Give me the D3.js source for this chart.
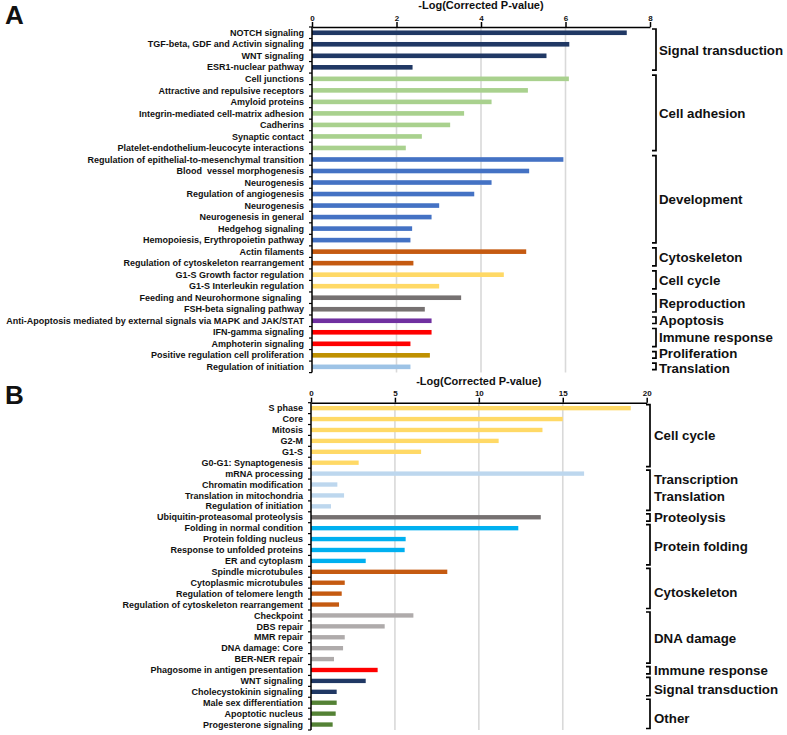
<!DOCTYPE html>
<html><head><meta charset="utf-8">
<script src="https://cdn.jsdelivr.net/npm/d3@7"></script>
<style>body{margin:0;background:#fff}svg{display:block}text{font-family:"Liberation Sans",Arial,sans-serif;font-weight:bold;fill:#111}</style>
</head><body>
<script>
// ---------- Panel A data ----------
const catsA = ["NOTCH signaling","TGF-beta, GDF and Activin signaling","WNT signaling","ESR1-nuclear pathway",
"Cell junctions","Attractive and repulsive receptors","Amyloid proteins","Integrin-mediated cell-matrix adhesion","Cadherins","Synaptic contact","Platelet-endothelium-leucocyte interactions",
"Regulation of epithelial-to-mesenchymal transition","Blood  vessel morphogenesis","Neurogenesis","Regulation of angiogenesis","Neurogenesis","Neurogenesis in general","Hedgehog signaling","Hemopoiesis, Erythropoietin pathway",
"Actin filaments","Regulation of cytoskeleton rearrangement",
"G1-S Growth factor regulation","G1-S Interleukin regulation",
"Feeding and Neurohormone signaling ","FSH-beta signaling pathway",
"Anti-Apoptosis mediated by external signals via MAPK and JAK/STAT",
"IFN-gamma signaling","Amphoterin signaling",
"Positive regulation cell proliferation",
"Regulation of initiation"];
const valsA = [7.45,6.09,5.55,2.38, 6.08,5.11,4.25,3.60,3.27,2.60,2.22, 5.95,5.14,4.25,3.84,3.01,2.83,2.37,2.33, 5.07,2.40, 4.54,3.01, 3.53,2.67, 2.83, 2.83,2.33, 2.79, 2.33];
const groupNamesA = [["Signal transduction"],["Cell adhesion"],["Development"],["Cytoskeleton"],["Cell cycle"],["Reproduction"],["Apoptosis"],["Immune response"],["Proliferation"],["Translation"]];
const groupSizesA = [4,7,8,2,2,2,1,2,1,1];
const groupColorsA = ["#203864","#a9d18e","#4472c4","#c55a11","#ffd966","#767171","#7030a0","#ff0000","#bf9000","#9dc3e6"];
const ticksA = [0,2,4,6,8];

// ---------- Panel B data ----------
const catsB = ["S phase","Core","Mitosis","G2-M","G1-S","G0-G1: Synaptogenesis",
"mRNA processing","Chromatin modification","Translation in mitochondria","Regulation of initiation",
"Ubiquitin-proteasomal proteolysis",
"Folding in normal condition","Protein folding nucleus","Response to unfolded proteins","ER and cytoplasm",
"Spindle microtubules","Cytoplasmic microtubules","Regulation of telomere length","Regulation of cytoskeleton rearrangement",
"Checkpoint","DBS repair","MMR repair","DNA damage: Core","BER-NER repair",
"Phagosome in antigen presentation",
"WNT signaling","Cholecystokinin signaling",
"Male sex differentiation","Apoptotic nucleus","Progesterone signaling"];
const valsB = [19.05,15.0,13.79,11.18,6.56,2.84, 16.27,1.57,1.97,1.19, 13.69, 12.35,5.64,5.58,3.26, 8.12,2.01,1.83,1.67, 6.10,4.39,2.01,1.91,1.37, 3.97, 3.26,1.53, 1.53,1.47,1.29];
const groupNamesB = [["Cell cycle"],["Transcription","Translation"],["Proteolysis"],["Protein folding"],["Cytoskeleton"],["DNA damage"],["Immune response"],["Signal transduction"],["Other"]];
const groupSizesB = [6,4,1,4,4,5,1,2,3];
const groupColorsB = ["#ffd966","#bdd7ee","#767171","#00b0f0","#c55a11","#afabab","#ff0000","#203864","#548235"];
const ticksB = [0,5,10,15,20];

const axisTitle = "-Log(Corrected P-value)";

const svg = d3.select("body").append("svg").attr("width",787).attr("height",735);

function panel(cfg){
  const {cats, vals, groupNames, groupSizes, groupColors, ticks, x0, x1, y0, y1, letter, letterY, bx, tx, insTop, insBot, labelDy} = cfg;
  const g = svg.append("g");
  const x = d3.scaleLinear().domain([0, ticks[ticks.length-1]]).range([x0, x1]);
  const idx = cats.map((d,i)=>i);
  const y = d3.scaleBand().domain(idx).range([y0, y1]).padding(0);
  const step = y.step();
  const rowColor = [];
  groupSizes.forEach((n,gi)=>{ for(let k=0;k<n;k++) rowColor.push(groupColors[gi]); });

  // gridlines
  g.selectAll(".grid").data(ticks.slice(1,-1)).join("line")
    .attr("x1",d=>x(d)).attr("x2",d=>x(d)).attr("y1",y0).attr("y2",y1)
    .attr("stroke","#d9d9d9").attr("stroke-width",1.6);

  // bars
  g.selectAll(".bar").data(vals).join("rect")
    .attr("x",x(0)).attr("y",(d,i)=>y(i)+step*0.3)
    .attr("width",d=>x(d)-x(0)).attr("height",step*0.4)
    .attr("fill",(d,i)=>rowColor[i]);

  // top axis
  const ax = g.append("g").attr("transform",`translate(0,${y0})`)
    .call(d3.axisTop(x).tickValues(ticks).tickSize(5).tickSizeOuter(0).tickFormat(d3.format("d")));
  ax.select(".domain").attr("stroke","#000").attr("stroke-width",1.5);
  ax.selectAll(".tick line").attr("stroke","#000").attr("stroke-width",1.5);
  ax.selectAll(".tick text").attr("font-size",8).attr("font-family","Liberation Sans, Arial").attr("font-weight","bold").attr("fill","#111").attr("dy","0.2em");

  // axis title
  g.append("text").attr("x",(x0+x1)/2).attr("y",y0-18).attr("text-anchor","middle").attr("font-size",11).text(axisTitle);

  // left axis
  g.append("line").attr("x1",x0).attr("x2",x0).attr("y1",y0).attr("y2",y1).attr("stroke","#000").attr("stroke-width",1.5);
  g.selectAll(".ytick").data(d3.range(cats.length+1)).join("line")
    .attr("x1",x0-3).attr("x2",x0).attr("y1",d=>y0+d*step).attr("y2",d=>y0+d*step)
    .attr("stroke","#000").attr("stroke-width",1.2);
  g.selectAll(".ylab").data(cats).join("text")
    .attr("x",x0-8).attr("y",(d,i)=>y(i)+step/2).attr("dy","0.35em")
    .attr("text-anchor","end").attr("font-size",9).style("white-space","pre").text(d=>d);

  // brackets
  let start = 0;
  groupSizes.forEach((n,gi)=>{
    const ya = y(start)+insTop, yb = y(start+n-1)+step-insBot;
    g.append("path").attr("d",`M${bx-4},${ya}H${bx}V${yb}H${bx-4}`)
      .attr("fill","none").attr("stroke","#000").attr("stroke-width",1.7);
    const lines = groupNames[gi];
    const mid = (ya+yb)/2 + (labelDy[gi]||0);
    lines.forEach((t,li)=>{
      g.append("text").attr("x",tx).attr("y",mid + (li-(lines.length-1)/2)*17).attr("dy","0.35em")
        .attr("font-size",13.3).text(t);
    });
    start += n;
  });

  // panel letter
  svg.append("text").attr("x",5).attr("y",letterY).attr("font-size",26).text(letter);
}

panel({cats:catsA, vals:valsA, groupNames:groupNamesA, groupSizes:groupSizesA, groupColors:groupColorsA, ticks:ticksA,
  x0:312, x1:650, y0:27, y1:372.6, letter:"A", letterY:24, bx:656, tx:659, insTop:2, insBot:3,
  labelDy:[1,0,0,0,0.5,0.5,0,0,-1,2.5]});
panel({cats:catsB, vals:valsB, groupNames:groupNamesB, groupSizes:groupSizesB, groupColors:groupColorsB, ticks:ticksB,
  x0:311, x1:646.7, y0:402.7, y1:730, letter:"B", letterY:404, bx:650, tx:654, insTop:2, insBot:1.5,
  labelDy:[0,-2,0,2,4,1,0,3,4]});
</script>
</body></html>
